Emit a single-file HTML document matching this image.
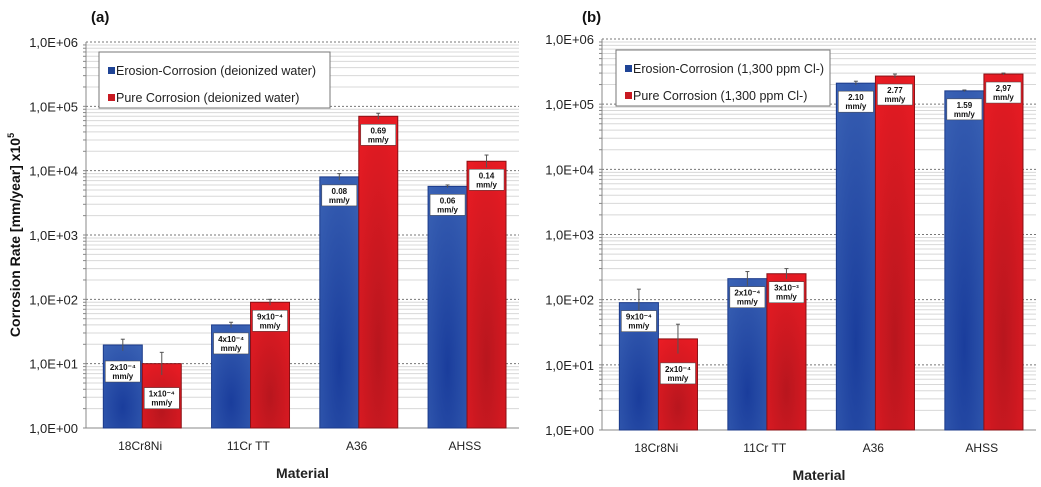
<!DOCTYPE html>
<html><head><meta charset="utf-8"><style>
body{margin:0;background:#fff;font-family:"Liberation Sans",sans-serif}
svg{display:block}
</style></head><body>
<svg id="c" width="1041" height="487" xmlns="http://www.w3.org/2000/svg">
<defs>
<radialGradient id="gb" cx="0.5" cy="0.75" r="0.9"><stop offset="0" stop-color="#1a3d9c"/><stop offset="1" stop-color="#3b63b5"/></radialGradient>
<radialGradient id="gr" cx="0.5" cy="0.75" r="0.9"><stop offset="0" stop-color="#b8161e"/><stop offset="1" stop-color="#ec1c24"/></radialGradient>
</defs>
</svg>
<script>
const categories=["18Cr8Ni","11Cr TT","A36","AHSS"];
const tickLabels=["1,0E+00","1,0E+01","1,0E+02","1,0E+03","1,0E+04","1,0E+05","1,0E+06"];
const aBlue=[19.5,40,8000,5700];
const aRed=[10,90,70000,14000];
const aBlueErr=[24,44,9000,6000];
const aRedErr=[15,100,78000,17500];
const aBlueLbl=[["2x10⁻⁴","mm/y"],["4x10⁻⁴","mm/y"],["0.08","mm/y"],["0.06","mm/y"]];
const aRedLbl=[["1x10⁻⁴","mm/y"],["9x10⁻⁴","mm/y"],["0.69","mm/y"],["0.14","mm/y"]];
const bBlue=[90,210,210000,160000];
const bRed=[25,250,270000,290000];
const bBlueErr=[145,270,225000,165000];
const bRedErr=[42,300,290000,300000];
const bBlueLbl=[["9x10⁻⁴","mm/y"],["2x10⁻⁴","mm/y"],["2.10","mm/y"],["1.59","mm/y"]];
const bRedLbl=[["2x10⁻⁴","mm/y"],["3x10⁻³","mm/y"],["2.77","mm/y"],["2,97","mm/y"]];
const svg=document.getElementById('c');
const NS="http://www.w3.org/2000/svg";
function el(t,a,p){const e=document.createElementNS(NS,t);for(const k in a)e.setAttribute(k,a[k]);(p||svg).appendChild(e);return e;}
function panel(o){
  const g=el('g',{});
  
  
  const y=v=>o.y0-(Math.log10(v))*(o.y0-o.y6)/6;
  const gw=(o.x1-o.x0)/4;
  for(let d=0;d<6;d++)for(let m=2;m<10;m++){const yy=y(m*Math.pow(10,d));el('line',{x1:o.x0,x2:o.x1,y1:yy,y2:yy,stroke:'#d8d8d8','stroke-width':1},g);}
  for(let d=0;d<=6;d++){const yy=y(Math.pow(10,d));
    if(d>0){const l=el('line',{x1:o.x0,x2:o.x1,y1:yy,y2:yy,stroke:'#777','stroke-width':1,'stroke-dasharray':'2,2'},g);}
    const t=el('text',{x:o.x0-8,y:yy+5,'text-anchor':'end','font-size':13,fill:'#222'},g);t.textContent=tickLabels[d];
    }
  el('line',{x1:o.x0,x2:o.x0,y1:o.y6,y2:o.y0,stroke:'#888'},g);
  for(let d=0;d<6;d++)for(let m=1;m<10;m++){const yy=y(m*Math.pow(10,d));el('line',{x1:o.x0-3,x2:o.x0,y1:yy,y2:yy,stroke:'#888'},g);}
  el('line',{x1:o.x0,x2:o.x1,y1:o.y0,y2:o.y0,stroke:'#888'},g);
  const bw=gw*0.36;
  categories.forEach((c,i)=>{
    const gx=o.x0+gw*i+gw*0.16;
    [[o.blue,o.bErr,o.bLbl,'url(#gb)','#1b3a8a','erosion'],[o.red,o.rErr,o.rLbl,'url(#gr)','#8a1015','pure']].forEach((s,k)=>{
      const x=gx+k*bw,top=y(s[0][i]);
      const r=el('rect',{x:x,y:top,width:bw,height:o.y0-top,fill:s[3],stroke:s[4],'stroke-width':1},g);
      
      
      const et=y(s[1][i]),cx=x+bw/2;
      el('line',{x1:cx,x2:cx,y1:et,y2:top+(top-et),stroke:'#555'},g);
      el('line',{x1:cx-2,x2:cx+2,y1:et,y2:et,stroke:'#555'},g);
      const off=s[0][i]<30?(k?24:16):8;
      const ly=top+off;
      const b=el('rect',{x:x+2,y:ly,width:bw-4,height:21,fill:'#fff',stroke:'#444','stroke-width':0.5},g);
      
      s[2][i].forEach((ln,j)=>{const t=el('text',{x:cx,y:ly+9+j*9,'text-anchor':'middle','font-size':8,'font-weight':'bold',fill:'#111'},g);t.textContent=ln;});
    });
    const t=el('text',{x:o.x0+gw*(i+0.5),y:o.y0+22,'text-anchor':'middle','font-size':12,fill:'#222'},g);t.textContent=c;
    
  });
  const xt=el('text',{x:(o.x0+o.x1)/2,y:o.y0+50,'text-anchor':'middle','font-size':14,'font-weight':'bold',fill:'#222'},g);xt.textContent='Material';
  
  const pl=el('text',{x:o.x0-80+o.plx,y:22,'font-size':15,'font-weight':'bold',fill:'#111'},g);pl.textContent=o.panel;
  
  const lg=el('g',{},g);
  el('rect',{x:o.lx,y:o.ly,width:o.lw,height:56,fill:'#fff',stroke:'#777'},lg);
  o.leg.forEach((t,j)=>{
    const e=el('g',{},lg);
    el('rect',{x:o.lx+9,y:o.ly+15+j*27,width:7,height:7,fill:j?'#c81a22':'#1f4496'},e);
    const tx=el('text',{x:o.lx+17,y:o.ly+23+j*27,'font-size':12.5,fill:'#222'},e);tx.textContent=t;});
  return g;
}
panel({name:'panel-a',panel:'(a)',plx:85,x0:86,x1:519,y0:428,y6:42,blue:aBlue,red:aRed,bErr:aBlueErr,rErr:aRedErr,bLbl:aBlueLbl,rLbl:aRedLbl,
  lx:99,ly:52,lw:231,leg:['Erosion-Corrosion (deionized water)','Pure Corrosion (deionized water)']});
panel({name:'panel-b',panel:'(b)',plx:60,x0:602,x1:1036,y0:430,y6:39,blue:bBlue,red:bRed,bErr:bBlueErr,rErr:bRedErr,bLbl:bBlueLbl,rLbl:bRedLbl,
  lx:616,ly:50,lw:214,leg:['Erosion-Corrosion (1,300 ppm Cl-)','Pure Corrosion (1,300 ppm Cl-)']});
const yl=el('text',{x:0,y:0,'text-anchor':'middle','font-size':14,'font-weight':'bold',fill:'#111',transform:'translate(20,235) rotate(-90)'});
yl.innerHTML='Corrosion Rate [mm/year] x10<tspan dy="-6" font-size="9">5</tspan>';


</script>
</body></html>
